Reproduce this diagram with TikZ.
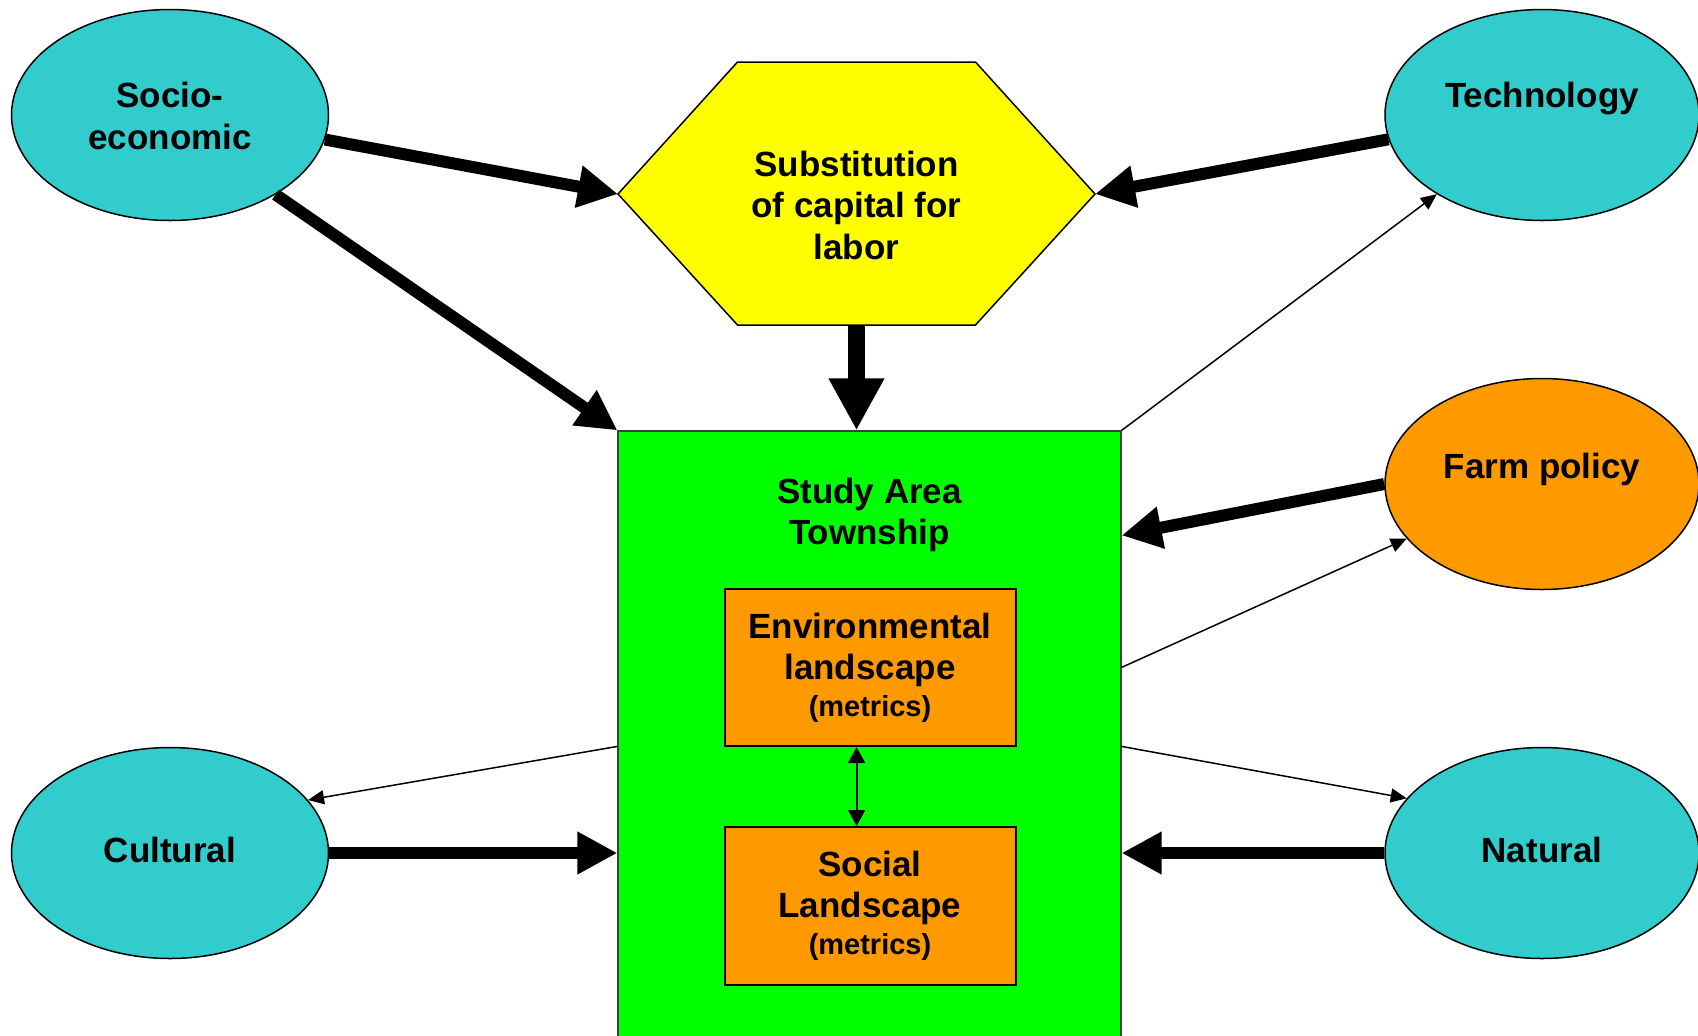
\documentclass[tikz,border=0pt]{standalone}
\usepackage{fontspec}
\setmainfont{Liberation Sans}
\usetikzlibrary{arrows.meta,shapes.geometric}
\definecolor{cy}{RGB}{51,204,204}
\definecolor{orng}{RGB}{255,153,0}
\definecolor{yel}{RGB}{255,255,0}
\definecolor{grn}{RGB}{0,255,0}
\begin{document}
\begin{tikzpicture}[x=0.5pt,y=-0.5pt,
  ell/.style={ellipse, draw=black, line width=0.75pt, minimum width=157pt, minimum height=105.5pt, inner sep=0pt},
  lbl/.style={font=\bfseries\fontsize{17.5}{20.75}\selectfont, align=center, inner sep=0pt},
  inbox/.style={draw=black, line width=1pt, fill=orng, minimum width=145.5pt, inner sep=0pt,
    font=\bfseries\fontsize{17.5}{20.5}\selectfont, align=center},
  thickarr/.style={line width=6pt, -{Triangle[length=20pt,width=20pt]}},
  bigarr/.style={line width=8.5pt, -{Triangle[length=26pt,width=26pt]}},
  thinarr/.style={line width=0.75pt, -{Triangle[length=8pt,width=7pt]}},
  dblarr/.style={line width=1pt, {Triangle[length=8pt,width=8.5pt]}-{Triangle[length=8pt,width=8.5pt]}},
]
\useasboundingbox (0,0) rectangle (1698,1035);

% ellipses
\node[ell, fill=cy, minimum width=158.5pt] (soc) at (170,115) {};
\node[ell, fill=cy] (tech) at (1542,115) {};
\node[ell, fill=orng] (farm) at (1542,484) {};
\node[ell, fill=cy, minimum width=158.5pt] (cult) at (170,853) {};
\node[ell, fill=cy] (nat) at (1542,853) {};

\node[lbl] (soct) at (170,116) {Socio-\\economic};
\node[lbl] (techt) at (1542,99) {Technology};
\node[lbl] (farmt) at (1542,469) {Farm policy};
\node[lbl] (cultt) at (170,850) {Cultural};
\node[lbl] (natt) at (1542,850) {Natural};

% hexagon
\coordinate (hexW) at (618,194);
\coordinate (hexE) at (1095,194);
\coordinate (hexS) at (856.5,325);
\draw[fill=yel, line width=0.75pt, line join=miter] (hexW) -- (737.5,62) -- (975.5,62) -- (hexE) -- (975.5,325) -- (737.5,325) -- cycle;
\node[lbl] (hex) at (856.5,205) {Substitution\\of capital for\\labor};

% study area
\node[draw=black!75, line width=0.6pt, fill=grn, minimum width=251.5pt, minimum height=304.5pt, inner sep=0pt] (study) at (869.5,735.5) {};
\node[lbl] (studyt) at (869.5,515) {Study Area\\Township};

\node[inbox, minimum height=78.5pt] (env) at (870,667.5) {Environmental\\landscape\\[-2pt]{\fontsize{14.5}{17}\selectfont (metrics)}};
\node[inbox, minimum height=79pt] (socl) at (870,906) {Social\\Landscape\\[-2pt]{\fontsize{14.5}{17}\selectfont (metrics)}};

% connectors
\draw[thickarr] (soc.-9) -- (hexW);
\draw[thickarr] (soc.-37) -- (study.north west);
\draw[bigarr] (hexS) -- (hexS |- study.north);
\draw[thickarr] (tech.189) -- (hexE);
\draw[thinarr] (study.north east) -- (tech.217);
\draw[thickarr] (farm.west) -- ([yshift=-52.5pt]study.north east);
\draw[thinarr] ([yshift=-118.5pt]study.north east) -- (farm.202);
\draw[thinarr] ([yshift=-158pt]study.north west) -- (cult.21);
\draw[thickarr] (cult.east) -- (study.west |- cult);
\draw[thinarr] ([yshift=-158pt]study.north east) -- (nat.158);
\draw[thickarr] (nat.west) -- (study.east |- nat);
\draw[dblarr] ([xshift=-6.7pt]env.south) -- ([xshift=-6.7pt]socl.north);
\end{tikzpicture}
\end{document}
